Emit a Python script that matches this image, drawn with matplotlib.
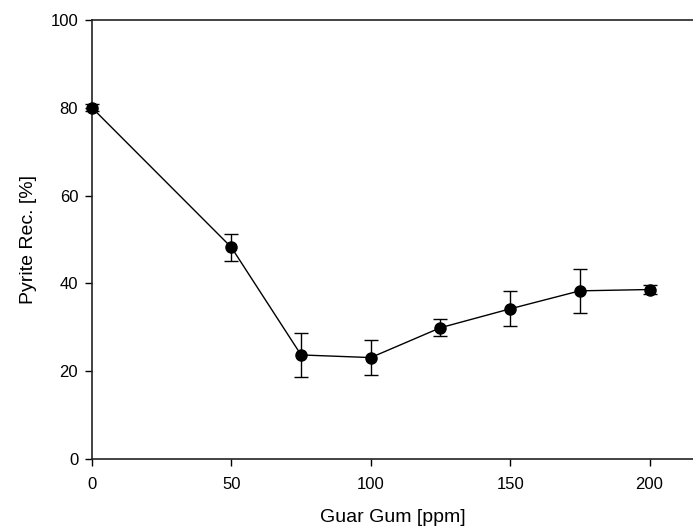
import matplotlib.pyplot as plt

plt.rcParams['font.family'] = ['Liberation Sans', 'DejaVu Sans']

guar_gum = [0, 50, 75, 100, 125, 150, 175, 200]
recovery = [80.0, 48.2, 23.7, 23.1, 29.9, 34.2, 38.3, 38.6]
rec_err = [0.8, 3.0, 5.0, 3.9, 2.0, 4.0, 5.0, 1.0]


def main():

    fig = plt.figure(figsize = (6.93, 5.30), dpi = 100)
    ax = fig.add_axes([0.1328, 0.134, 0.8672, 0.8283])

    ax.errorbar(
        guar_gum, recovery, yerr = rec_err,
        color = 'black', marker = 'o', markersize = 8, linewidth = 1,
        elinewidth = 1, capsize = 5, capthick = 1, clip_on = False, zorder = 3,
    )

    ax.set_xlim(0, 215.6)
    ax.set_ylim(0, 100)
    ax.set_xticks([0, 50, 100, 150, 200])
    ax.set_yticks([0, 20, 40, 60, 80, 100])
    ax.spines['right'].set_visible(False)
    for s in ('left', 'bottom', 'top'):
        ax.spines[s].set_linewidth(1.2)
        ax.spines[s].set_color('#222222')
    ax.tick_params(direction = 'out', length = 5, width = 1, labelsize = 12, pad = 5)
    ax.tick_params(axis = 'x', pad = 8)

    ax.set_xlabel('Guar Gum [ppm]', fontsize = 14, labelpad = 12)
    ax.set_ylabel('Pyrite Rec. [%]', fontsize = 14, labelpad = 10)

    fig.savefig('out.png')


if __name__ == '__main__':
    main()
